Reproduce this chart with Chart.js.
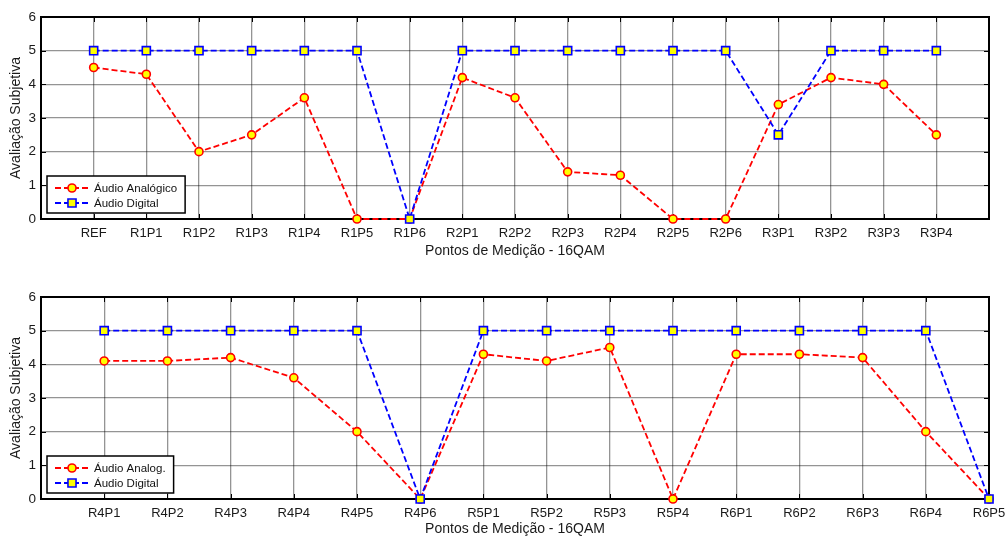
<!DOCTYPE html>
<html>
<head>
<meta charset="utf-8">
<script src="https://cdn.jsdelivr.net/npm/chart.js@4.4.0/dist/chart.umd.min.js"></script>
<style>
  html, body { margin: 0; padding: 0; background: #fff; }
  .panel { position: absolute; left: 0; width: 1007px; height: 268px; }
</style>
</head>
<body>
<div class="panel" style="top:0"><canvas id="chartTop" width="1007" height="268"></canvas></div>
<div class="panel" style="top:268px"><canvas id="chartBottom" width="1007" height="268"></canvas></div>
<script>
// measurement points and subjective scores (0..6 scale)
const topPoints = ['REF','R1P1','R1P2','R1P3','R1P4','R1P5','R1P6','R2P1','R2P2','R2P3','R2P4','R2P5','R2P6','R3P1','R3P2','R3P3','R3P4'];
const topAnalog  = [4.5, 4.3, 2.0, 2.5, 3.6, 0, 0, 4.2, 3.6, 1.4, 1.3, 0, 0, 3.4, 4.2, 4.0, 2.5];
const topDigital = [5, 5, 5, 5, 5, 5, 0, 5, 5, 5, 5, 5, 5, 2.5, 5, 5, 5];

const bottomPoints = ['R4P1','R4P2','R4P3','R4P4','R4P5','R4P6','R5P1','R5P2','R5P3','R5P4','R6P1','R6P2','R6P3','R6P4','R6P5'];
const bottomAnalog  = [4.1, 4.1, 4.2, 3.6, 2.0, 0, 4.3, 4.1, 4.5, 0, 4.3, 4.3, 4.2, 2.0, 0];
const bottomDigital = [5, 5, 5, 5, 5, 0, 5, 5, 5, 5, 5, 5, 5, 5, 0];

const yMin = 0, yMax = 6, yStep = 1;
const FONT = "'Liberation Sans', Arial, sans-serif";

// box, tick marks and in-plot legend (MATLAB look)
const matlabFrame = {
  id: 'matlabFrame',
  beforeDatasetsDraw(chart) {
    const { ctx, chartArea: a, scales: { x, y } } = chart;
    ctx.save();
    ctx.strokeStyle = '#000';
    ctx.lineWidth = 1;
    ctx.beginPath();
    x.ticks.forEach((t, i) => {
      const px = Math.round(x.getPixelForTick(i)) + 0.5;
      ctx.moveTo(px, a.bottom); ctx.lineTo(px, a.bottom - 5);
      ctx.moveTo(px, a.top); ctx.lineTo(px, a.top + 5);
    });
    y.ticks.forEach((t, i) => {
      const py = Math.round(y.getPixelForTick(i)) + 0.5;
      ctx.moveTo(a.left, py); ctx.lineTo(a.left + 5, py);
      ctx.moveTo(a.right, py); ctx.lineTo(a.right - 5, py);
    });
    ctx.stroke();
    ctx.lineWidth = 2;
    ctx.strokeRect(a.left, a.top, a.right - a.left, a.bottom - a.top);
    ctx.restore();
  },
  afterDatasetsDraw(chart) {
    const { ctx, chartArea: a } = chart;
    const sets = chart.data.datasets;
    ctx.save();
    ctx.font = '11.5px ' + FONT;
    const textW = Math.max(...sets.map(d => ctx.measureText(d.label).width));
    const bx = a.left + 6, bh = 37, by = a.bottom - 6 - bh;
    const bw = 47 + textW + 8;
    ctx.fillStyle = '#fff';
    ctx.fillRect(bx, by, bw, bh);
    ctx.strokeStyle = '#000';
    ctx.lineWidth = 1.5;
    ctx.strokeRect(bx, by, bw, bh);
    sets.forEach((d, i) => {
      const ry = by + 12 + i * 15;
      ctx.setLineDash(d.borderDash);
      ctx.strokeStyle = d.borderColor;
      ctx.lineWidth = d.borderWidth;
      ctx.beginPath();
      ctx.moveTo(bx + 8, ry); ctx.lineTo(bx + 41, ry);
      ctx.stroke();
      ctx.setLineDash([]);
      ctx.fillStyle = d.pointBackgroundColor;
      ctx.strokeStyle = d.pointBorderColor;
      ctx.lineWidth = d.pointBorderWidth;
      Chart.helpers.drawPoint(ctx, { pointStyle: d.pointStyle, radius: d.pointRadius, borderWidth: d.pointBorderWidth }, bx + 25, ry);
      ctx.fillStyle = '#111';
      ctx.textBaseline = 'middle';
      ctx.textAlign = 'left';
      ctx.fillText(d.label, bx + 47, ry + 1);
    });
    ctx.restore();
  }
};

function buildChart(id, points, analog, digital, analogName, padRight, geom) {
  // empty slot before (and optionally after) the points, like the xlim of the original plot
  const labels = [''].concat(points, padRight ? [''] : []);
  const pad = arr => [null].concat(arr, padRight ? [null] : []);
  const gridColor = 'rgba(0,0,0,0.42)';
  return new Chart(document.getElementById(id), {
    type: 'line',
    data: {
      labels,
      datasets: [
        {
          label: analogName,
          data: pad(analog),
          borderColor: '#ff0000',
          borderWidth: 1.8,
          borderDash: [6, 3],
          pointStyle: 'circle',
          pointRadius: 4,
          pointBorderWidth: 1.6,
          pointBackgroundColor: '#ffff00',
          pointBorderColor: '#ff0000',
          tension: 0,
          clip: false,
          order: 1
        },
        {
          label: 'Áudio Digital',
          data: pad(digital),
          borderColor: '#0000ff',
          borderWidth: 1.8,
          borderDash: [6, 3],
          pointStyle: 'rect',
          pointRadius: 5.7,
          pointBorderWidth: 1.6,
          pointBackgroundColor: '#ffff00',
          pointBorderColor: '#0000ff',
          tension: 0,
          clip: false,
          order: 0
        }
      ]
    },
    options: {
      responsive: false,
      animation: false,
      events: [],
      layout: { padding: { left: 0, right: 18, top: geom.top, bottom: 0 } },
      plugins: { legend: { display: false }, tooltip: { enabled: false } },
      scales: {
        x: {
          offset: false,
          grid: { color: gridColor, lineWidth: 1.3, drawTicks: false },
          border: { display: false },
          ticks: { autoSkip: false, maxRotation: 0, padding: 7, color: '#1a1a1a', font: { family: FONT, size: 13 } },
          title: { display: true, text: 'Pontos de Medição - 16QAM', color: '#1a1a1a', padding: { top: 0, bottom: geom.titlePad }, font: { family: FONT, size: 14 } },
          afterFit: s => { s.height = 268 - geom.bottom; s.paddingLeft = 0; s.paddingRight = 0; }
        },
        y: {
          min: yMin, max: yMax,
          grid: { color: gridColor, lineWidth: 1.3, drawTicks: false },
          border: { display: false },
          ticks: { stepSize: yStep, padding: 5, color: '#1a1a1a', font: { family: FONT, size: 13.5 } },
          title: { display: true, text: 'Avaliação Subjetiva', color: '#1a1a1a', padding: { top: 8, bottom: 0 }, font: { family: FONT, size: 14 } },
          afterFit: s => { s.width = 41; }
        }
      }
    },
    plugins: [matlabFrame]
  });
}

buildChart('chartTop', topPoints, topAnalog, topDigital, 'Áudio Analógico', true, { top: 17, bottom: 219, titlePad: 8.5 });
buildChart('chartBottom', bottomPoints, bottomAnalog, bottomDigital, 'Áudio Analog.', false, { top: 29, bottom: 231, titlePad: -1.5 });
</script>
</body>
</html>
